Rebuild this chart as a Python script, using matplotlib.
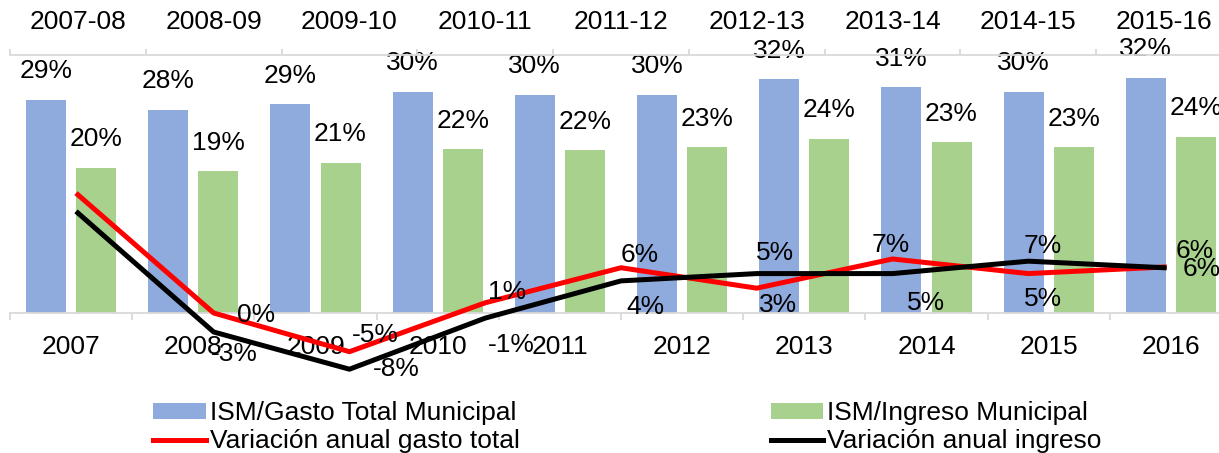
import matplotlib.pyplot as plt
import numpy as np

plt.rcParams['font.family'] = ['Liberation Sans', 'DejaVu Sans']

# datos
anios = ['2007', '2008', '2009', '2010', '2011', '2012', '2013', '2014', '2015', '2016']
periodos = ['2007-08', '2008-09', '2009-10', '2010-11', '2011-12', '2012-13',
            '2013-14', '2014-15', '2015-16']
ism_gasto = [29.2, 27.8, 28.6, 30.3, 29.9, 29.9, 32.0, 30.9, 30.3, 32.2]
ism_ingreso = [19.9, 19.4, 20.6, 22.4, 22.3, 22.7, 23.9, 23.4, 22.7, 24.1]
var_gasto = [16.2, 0.0, -5.3, 1.4, 6.2, 3.4, 7.4, 5.4, 6.3]
var_ingreso = [13.7, -2.6, -7.7, -0.7, 4.4, 5.4, 5.4, 7.1, 6.2]

# posiciones de etiquetas (px, centro del texto respecto al punto)
off_gasto = [None, (42, -2), (26, 17), (22, 11), (19, 13), (21, -17), (-2, 14), (15, -25), (31, 16)]
off_ingreso = [None, (21, -22), (47, 0), (26, -27), (24, -26), (18, 21), (33, -29), (14, 15), (38, -1)]

azul = '#8FAADC'
verde = '#A9D18E'
gris = '#D9D9D9'
fs = 19

fig = plt.figure(figsize=(12.19, 4.53), dpi=100)
W, H = 1219, 453
ax = fig.add_axes([10 / W, (H - 380) / H, 1222 / W, 325 / H])
ax.set_facecolor('none')
ppp = 7.3
ax.set_ylim(-(380 - 313) / ppp, (313 - 55) / ppp)
ax.spines['bottom'].set_position(('data', 0))

x = np.arange(len(anios))
b1 = ax.bar(x - 0.205, ism_gasto, width=0.327, color=azul, label='ISM/Gasto Total Municipal')
b2 = ax.bar(x + 0.205, ism_ingreso, width=0.327, color=verde, label='ISM/Ingreso Municipal')
ax.bar_label(b1, labels=[f'{v:.0f}%' for v in ism_gasto], padding=12, fontsize=fs)
ax.bar_label(b2, labels=[f'{v:.0f}%' for v in ism_ingreso], padding=12, fontsize=fs)

ax.set_xlim(-0.5, len(anios) - 0.5)
ax.set_xticks(x)
ax.set_xticklabels(anios)
ax.set_xticks(np.arange(len(anios) + 1) - 0.5, minor=True)
ax.tick_params(axis='x', which='major', length=0, pad=15.5, labelsize=fs)
ax.tick_params(axis='x', which='minor', length=5, color=gris, width=1.3, direction='out')
ax.spines['bottom'].set_color(gris)
ax.spines['bottom'].set_linewidth(1.3)
for s in ['top', 'left', 'right']:
    ax.spines[s].set_visible(False)
ax.set_yticks([])

# eje secundario (arriba) para las variaciones
ax2 = ax.twiny()
xp = np.arange(len(periodos))
l1, = ax2.plot(xp, var_gasto, color='#FF0000', lw=3.6, label='Variación anual gasto total')
l2, = ax2.plot(xp, var_ingreso, color='black', lw=3.6, label='Variación anual ingreso')
ax2.set_xlim(-0.5, len(periodos) - 0.5)
ax2.set_xticks(xp)
ax2.set_xticklabels(periodos)
ax2.set_xticks(np.arange(len(periodos) + 1) - 0.5, minor=True)
ax2.tick_params(axis='x', which='major', length=0, pad=15, labelsize=fs)
ax2.tick_params(axis='x', which='minor', length=4, color=gris, width=1.3, direction='out')
ax2.spines['top'].set_color(gris)
ax2.spines['top'].set_linewidth(1.3)
for s in ['bottom', 'left', 'right']:
    ax2.spines[s].set_visible(False)

for serie, offs in [(var_gasto, off_gasto), (var_ingreso, off_ingreso)]:
    for i, (v, o) in enumerate(zip(serie, offs)):
        if o is None:
            continue
        ax2.annotate(f'{v:.0f}%', (xp[i], v), xytext=o, textcoords='offset pixels',
                     ha='center', va='center', fontsize=fs)

fig.legend(handles=[b1, l1, b2, l2], ncol=2, loc='upper left',
           bbox_to_anchor=(140 / W, 1 - 388 / H), frameon=False, fontsize=fs,
           handlelength=2.0, handleheight=0.55, handletextpad=0.15,
           columnspacing=9.5, labelspacing=0.15, borderpad=0)

fig.savefig('out.png', dpi=100)
